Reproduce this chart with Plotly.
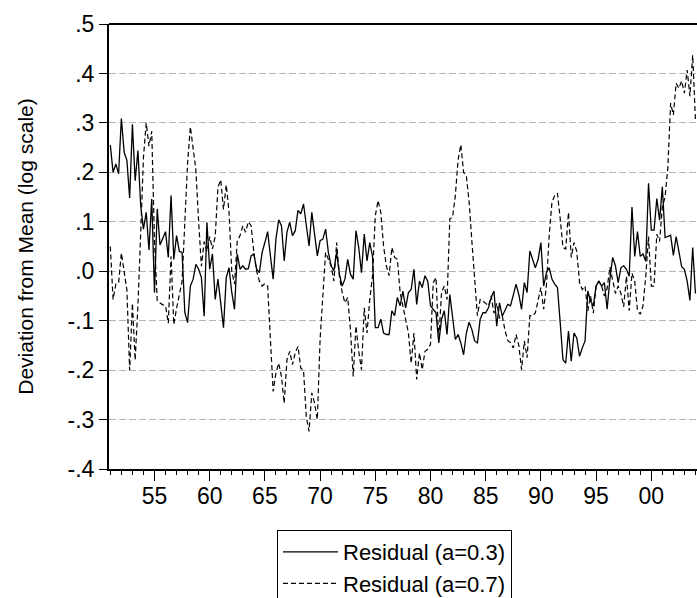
import plotly.graph_objects as go

# Quarterly observations, 1951Q1 onward
start_year = 1951
res_a03 = [
    0.255, 0.200, 0.217, 0.197, 0.309, 0.241, 0.224, 0.148, 0.297, 0.183,
    0.244, 0.133, 0.085, 0.119, 0.043, 0.146, -0.043, 0.126, 0.053, 0.065,
    0.080, 0.028, 0.153, 0.024, 0.072, 0.040, 0.038, -0.084, -0.104, -0.030,
    -0.016, 0.014, 0.004, -0.013, -0.091, 0.099, 0.004, 0.035, -0.057, -0.016,
    -0.060, -0.114, -0.013, 0.007, -0.043, -0.077, 0.035, 0.004, 0.011, 0.004,
    0.005, 0.031, 0.035, 0.004, -0.003, 0.038, 0.058, 0.080, 0.031, -0.016,
    0.065, 0.104, 0.092, 0.021, 0.079, 0.099, 0.072, 0.082, 0.123, 0.116,
    0.136, 0.089, 0.051, 0.119, 0.079, 0.031, 0.062, 0.065, 0.085, 0.038,
    0.011, 0.001, 0.038, -0.006, -0.030, -0.016, 0.024, -0.006, -0.016, 0.082,
    0.048, -0.003, 0.075, 0.021, 0.058, 0.030, -0.114, -0.114, -0.097, -0.125,
    -0.128, -0.128, -0.080, -0.090, -0.053, -0.070, -0.040, -0.074, -0.043, -0.037,
    0.004, -0.067, -0.020, -0.033, -0.009, -0.020, -0.070, -0.077, -0.084, -0.145,
    -0.097, -0.080, -0.128, -0.047, -0.097, -0.138, -0.128, -0.145, -0.169, -0.125,
    -0.103, -0.118, -0.141, -0.145, -0.097, -0.084, -0.084, -0.074, -0.053, -0.040,
    -0.111, -0.064, -0.091, -0.077, -0.067, -0.070, -0.047, -0.026, -0.047, -0.077,
    -0.023, -0.043, 0.041, 0.024, 0.007, 0.024, 0.058, -0.030, -0.003, 0.007,
    -0.016, -0.026, -0.033, -0.104, -0.179, -0.186, -0.121, -0.182, -0.125, -0.135,
    -0.172, -0.155, -0.141, -0.040, -0.060, -0.070, -0.030, -0.020, -0.030, -0.023,
    -0.077, -0.016, 0.028, 0.011, -0.023, 0.007, 0.011, 0.004, -0.010, 0.130,
    0.030, 0.080, 0.030, 0.035, 0.020, 0.178, 0.083, 0.083, 0.147, 0.103,
    0.171, 0.068, 0.070, 0.073, 0.032, 0.070, 0.040, 0.009, 0.004, -0.020,
    -0.059, 0.048, -0.045,
]
res_a07 = [
    0.050, -0.057, -0.026, -0.024, 0.037, 0.000, -0.038, -0.200, -0.065, -0.180,
    -0.070, 0.077, 0.230, 0.300, 0.253, 0.283, 0.060, -0.060, -0.065, -0.068,
    -0.070, -0.105, 0.030, -0.108, -0.075, -0.050, -0.020, 0.100, 0.220, 0.292,
    0.250, 0.205, 0.100, 0.010, 0.060, 0.040, 0.070, 0.045, 0.070, 0.170,
    0.185, 0.125, 0.175, 0.120, 0.000, -0.026, 0.062, 0.072, 0.092, 0.079,
    0.100, 0.092, 0.038, 0.000, -0.020, -0.030, -0.025, -0.030, -0.138, -0.243,
    -0.206, -0.186, -0.213, -0.267, -0.179, -0.162, -0.189, -0.165, -0.152, -0.196,
    -0.200, -0.294, -0.324, -0.246, -0.267, -0.300, -0.138, -0.057, 0.038, 0.024,
    0.011, -0.020, 0.058, -0.010, -0.043, -0.064, -0.053, -0.118, -0.213, -0.111,
    -0.162, -0.199, -0.074, -0.125, -0.057, -0.009, 0.112, 0.143, 0.119, 0.051,
    0.011, -0.009, 0.048, 0.028, 0.024, -0.043, -0.070, -0.101, -0.125, -0.186,
    -0.125, -0.219, -0.165, -0.199, -0.162, -0.158, -0.148, -0.023, -0.013, -0.141,
    -0.043, -0.030, -0.057, 0.106, 0.109, 0.153, 0.225, 0.256, 0.200, 0.192,
    0.140, 0.060, -0.020, -0.090, -0.057, -0.060, -0.065, -0.070, -0.050, -0.085,
    -0.065, -0.095, -0.090, -0.120, -0.140, -0.145, -0.155, -0.128, -0.150, -0.199,
    -0.141, -0.175, -0.090, -0.090, -0.084, -0.060, -0.033, -0.077, -0.030, 0.072,
    0.139, 0.153, 0.158, 0.106, 0.048, 0.045, 0.119, 0.028, 0.058, 0.040,
    -0.023, -0.037, -0.030, -0.080, -0.050, -0.085, -0.030, -0.020, -0.030, -0.050,
    -0.035, 0.009, -0.015, -0.045, -0.030, -0.045, -0.072, -0.010, -0.080, -0.004,
    -0.020, -0.080, -0.087, -0.070, -0.010, 0.070, -0.030, -0.030, 0.075, 0.060,
    0.130, 0.150, 0.210, 0.340, 0.316, 0.380, 0.370, 0.385, 0.360, 0.407,
    0.354, 0.437, 0.306,
]
x_tick_years = [1955, 1960, 1965, 1970, 1975, 1980, 1985, 1990, 1995, 2000]
x_tick_labels = ["55", "60", "65", "70", "75", "80", "85", "90", "95", "00"]
y_tick_vals = [0.5, 0.4, 0.3, 0.2, 0.1, 0.0, -0.1, -0.2, -0.3, -0.4]
y_tick_labels = [".5", ".4", ".3", ".2", ".1", ".0", "-.1", "-.2", "-.3", "-.4"]
series_names = ["Residual (a=0.3)", "Residual (a=0.7)"]

years = [start_year + i / 4 for i in range(len(res_a03))]
minor_years = [y for y in range(1951, 2005) if y % 5 != 0]

fig = go.Figure()
fig.add_trace(go.Scatter(x=years, y=res_a03, mode="lines", name=series_names[0],
                         line=dict(color="black", width=1.3)))
fig.add_trace(go.Scatter(x=years, y=res_a07, mode="lines", name=series_names[1],
                         line=dict(color="black", width=1.2, dash="5px,3px")))

font_family = "Liberation Sans, Arial, sans-serif"
fig.update_layout(
    width=697, height=598,
    margin=dict(l=109, r=0, t=24, b=129, autoexpand=False),
    plot_bgcolor="white", paper_bgcolor="white",
    font=dict(family=font_family, color="black"),
    showlegend=True,
    legend=dict(x=0.2857, xanchor="left", y=-0.1371, yanchor="top",
                font=dict(size=22, family=font_family, color="black"),
                bordercolor="black", borderwidth=1, bgcolor="white",
                itemwidth=55, tracegroupgap=0),
    xaxis=dict(range=[1950.88, 2004.14], showline=True, linecolor="black", linewidth=2,
               ticks="outside", ticklen=10, tickwidth=1, tickcolor="black",
               tickmode="array", tickvals=x_tick_years, ticktext=x_tick_labels,
               tickfont=dict(size=23), ticklabelstandoff=-5,
               showgrid=False, zeroline=False,
               minor=dict(ticks="outside", ticklen=4, tickwidth=1, tickcolor="black",
                          tickmode="array", tickvals=minor_years, showgrid=False)),
    yaxis=dict(range=[-0.4, 0.5], showline=True, linecolor="black", linewidth=2,
               ticks="outside", ticklen=8, tickwidth=1, tickcolor="black",
               tickmode="array", tickvals=y_tick_vals, ticktext=y_tick_labels,
               tickfont=dict(size=23), showgrid=True, gridcolor="#b4b4b4",
               gridwidth=1, griddash="7px,3px", zeroline=False,
               title=dict(text="Deviation from Mean (log scale)", font=dict(size=21),
                          standoff=28)),
    shapes=[dict(type="line", xref="paper", yref="paper", x0=0, x1=1, y0=1, y1=1,
                 line=dict(color="black", width=2))],
)

fig.write_html(
    "out.html",
    config={"displayModeBar": False},
    post_script="document.body.style.margin='0px';document.body.style.overflow='hidden';",
)
